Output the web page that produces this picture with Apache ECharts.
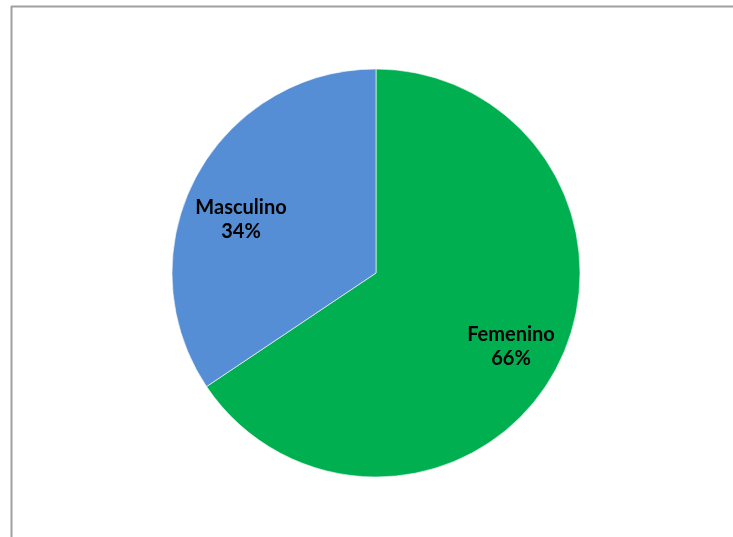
<!DOCTYPE html>
<html>
<head>
<meta charset="utf-8">
<script src="https://cdn.jsdelivr.net/npm/echarts@6/dist/echarts.min.js"></script>
<style>
html,body{margin:0;padding:0;background:#fff;}
#c{width:733px;height:537px;}
</style>
</head>
<body>
<div id="c"></div>
<script>
const categories = ['Femenino', 'Masculino'];
const values = [65.6, 34.4];
const colors = ['#00B050', '#558ED5'];

const labelOffsets = [[0, 2], [0, 19]];

const chart = echarts.init(document.getElementById('c'));
const data = categories.map((name, i) => ({ name: name, value: values[i], itemStyle: { color: colors[i] } }));
const labelData = categories.map((name, i) => ({ name: name, value: values[i], label: { offset: labelOffsets[i] } }));

chart.setOption({
  animation: false,
  backgroundColor: '#fff',
  graphic: [
    { type: 'line', shape: { x1: 11, y1: 6.5, x2: 733, y2: 6.5 }, style: { stroke: '#a0a0a0', lineWidth: 2 } },
    { type: 'line', shape: { x1: 11.5, y1: 6, x2: 11.5, y2: 537 }, style: { stroke: '#a0a0a0', lineWidth: 2 } }
  ],
  series: [
    {
      type: 'pie',
      center: [376, 273],
      radius: [0, 204],
      startAngle: 90,
      clockwise: true,
      label: { show: false },
      labelLine: { show: false },
      itemStyle: { borderColor: 'rgba(255,255,255,0.6)', borderWidth: 1 },
      emphasis: { disabled: true },
      data: data
    },
    {
      type: 'pie',
      center: [376, 273],
      radius: [96, 204],
      startAngle: 90,
      clockwise: true,
      silent: true,
      itemStyle: { color: 'rgba(0,0,0,0)' },
      labelLine: { show: false },
      label: {
        show: true,
        position: 'inside',
        formatter: p => p.name + '\n' + Math.round(p.value) + '%',
        fontFamily: 'Lato',
        fontWeight: 'bold',
        fontSize: 20,
        lineHeight: 24,
        color: '#000',
        align: 'center'
      },
      emphasis: { disabled: true },
      data: labelData
    }
  ]
});
</script>
</body>
</html>
